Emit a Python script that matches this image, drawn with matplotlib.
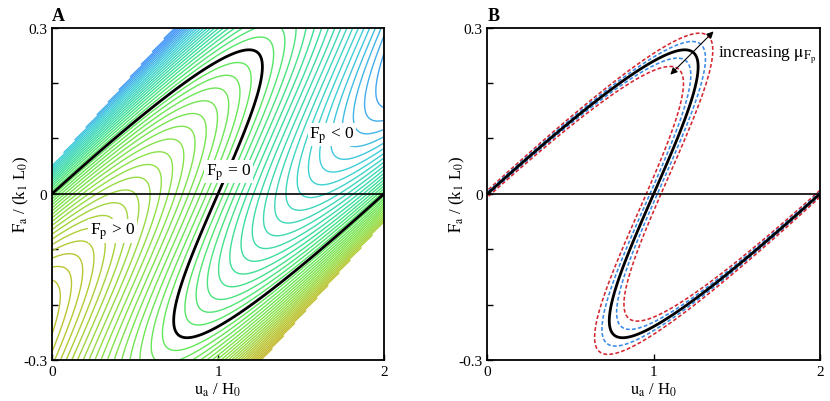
import numpy as np
import matplotlib.pyplot as plt
from matplotlib.colors import LinearSegmentedColormap, Normalize

plt.rcParams['font.family'] = ['Liberation Serif', 'DejaVu Serif']
plt.rcParams['mathtext.fontset'] = 'stix'
plt.rcParams['axes.unicode_minus'] = False
plt.rcParams['lines.dashed_pattern'] = [2.4, 1.4]

# bistable element: F_b = c x (x-1)(x-2), in series with spring of stiffness k
c_bi = 0.675
k_s = 0.34
x_lo, x_hi = -0.15, 2.15          # range of internal displacement that was computed

# contour levels of F_p
dFp = 0.023
levels_A = dFp * np.r_[np.arange(-28, 0), np.arange(1, 29)]
levels_B = [-0.03, -0.015, 0.015, 0.03]
colors_B = ['#d42630', '#3a8ae6', '#3a8ae6', '#d42630']

# colour map of the contour lines
cmap_vals = [-0.45, -0.3, -0.12, 0.0, 0.2, 0.36, 0.55]
cmap_cols = ['#4598f8', '#3fcfd8', '#3ddf98', '#5ce85c', '#8fe048', '#b8c834', '#c9b531']

xticks = [0, 1, 2]
yticks = [-0.3, -0.2, -0.1, 0, 0.1, 0.2, 0.3]
yticklabels = ['-0.3', '', '', '0', '', '', '0.3']

# field on a grid of (u_a, F_a)
ua = np.linspace(0, 2, 900)
Fa = np.linspace(-0.3, 0.3, 900)
U, F = np.meshgrid(ua, Fa)
X = U - F / k_s
Fp = c_bi * X * (X - 1) * (X - 2) - F
Fp = np.ma.masked_where((X < x_lo) | (X > x_hi), Fp)

vmin, vmax = cmap_vals[0], cmap_vals[-1]
pos = [(v - vmin) / (vmax - vmin) for v in cmap_vals]
cmap = LinearSegmentedColormap.from_list('fp', list(zip(pos, cmap_cols)))
norm = Normalize(vmin, vmax)

fig = plt.figure(figsize=(8.3, 4.02), dpi=100)
axA = fig.add_axes([0.0627, 0.102, 0.4, 0.827])
axB = fig.add_axes([0.5873, 0.102, 0.4006, 0.827])

for ax in (axA, axB):
    ax.axhline(0, color='k', lw=1.2, zorder=3)
    ax.set_xlim(0, 2)
    ax.set_ylim(-0.3, 0.3)
    ax.set_xticks(xticks)
    ax.set_yticks(yticks)
    ax.set_yticklabels(yticklabels)
    ax.tick_params(direction='in', length=4, width=1, labelsize=11, top=False, right=False)
    for s in ax.spines.values():
        s.set_linewidth(1.3)
    ax.set_xlabel(r'$\mathrm{u_a}$ / H$_\mathrm{0}$', fontsize=12, labelpad=2)
    ax.set_ylabel(r'$\mathrm{F_a}$ / (k$_\mathrm{1}$ L$_\mathrm{0}$)', fontsize=12, labelpad=-6)

# panel A
axA.contour(U, F, Fp, levels=levels_A, colors=[cmap(norm(v)) for v in levels_A],
            linewidths=1.0, linestyles='solid')
axA.contour(U, F, Fp, levels=[0], colors='k', linewidths=2.0, zorder=4)
box = dict(fc='white', ec='none', pad=1.0)
axA.text(1.063, 0.04, r'F$_\mathrm{p}$ = 0', fontsize=12.5, ha='center', va='center', bbox=box, zorder=5)
axA.text(1.684, 0.107, r'F$_\mathrm{p}$ < 0', fontsize=12.5, ha='center', va='center', bbox=box, zorder=5)
axA.text(0.364, -0.067, r'F$_\mathrm{p}$ > 0', fontsize=12.5, ha='center', va='center', bbox=box, zorder=5)

# panel B
axB.contour(U, F, Fp, levels=levels_B, colors=colors_B, linewidths=1.15, linestyles='dashed')
axB.contour(U, F, Fp, levels=[0], colors='k', linewidths=2.0, zorder=4)
axB.annotate('', xy=(1.36, 0.293), xytext=(1.10, 0.215),
             arrowprops=dict(arrowstyle='<|-|>', color='k', lw=0.8, mutation_scale=10,
                             shrinkA=0, shrinkB=0))
axB.text(1.385, 0.252, r'increasing $\mathrm{μ_{F_p}}$', fontsize=12.5, va='center')

fig.text(0.0627, 1 - 16.5 / 402, 'A', fontsize=13, weight='bold', va='center')
fig.text(0.5873, 1 - 16.5 / 402, 'B', fontsize=13, weight='bold', va='center')

fig.savefig('out.png', dpi=100)
